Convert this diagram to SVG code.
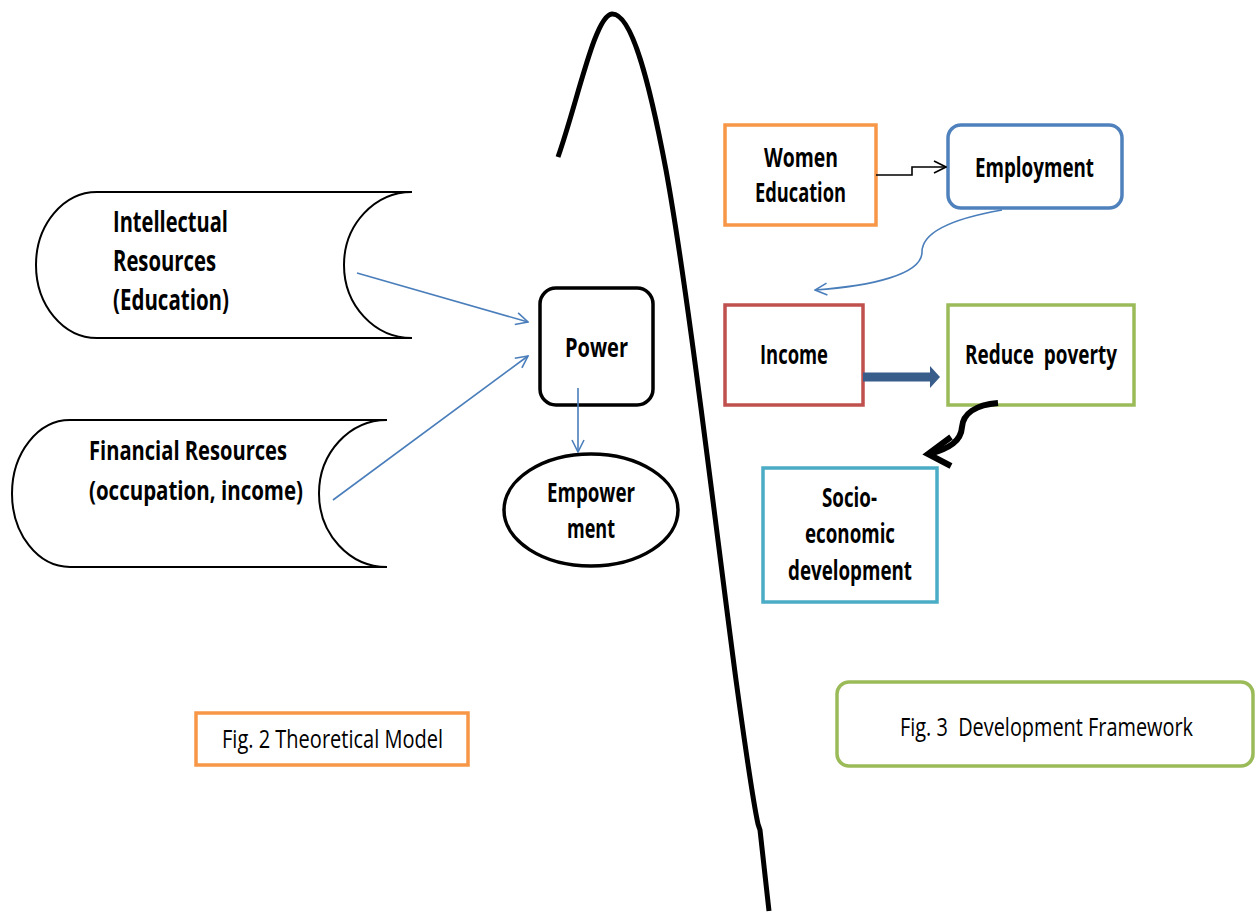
<svg xmlns="http://www.w3.org/2000/svg" width="1256" height="913" viewBox="0 0 1256 913">
<defs>
<style>
text{font-family:"Open Sans","Liberation Sans",Arial,sans-serif;fill:#000;white-space:pre}
.b{font-weight:bold}
.n{font-weight:normal}
.shape{fill:#fff;stroke:#000;stroke-width:2}
.thick{fill:#fff;stroke:#000;stroke-width:3.5}
.blue{fill:none;stroke:#4a7ebb;stroke-width:1.6}
</style>
<marker id="ab" viewBox="0 0 14 14" refX="13" refY="7" markerWidth="14" markerHeight="14" markerUnits="userSpaceOnUse" orient="auto">
<path d="M1,1 L13,7 L1,13" fill="none" stroke="#4a7ebb" stroke-width="1.6"/>
</marker>
<marker id="ak" viewBox="0 0 14 14" refX="13" refY="7" markerWidth="14" markerHeight="14" markerUnits="userSpaceOnUse" orient="auto">
<path d="M1,1 L13,7 L1,13" fill="none" stroke="#000" stroke-width="1.6"/>
</marker>
</defs>
<rect width="1256" height="913" fill="#fff"/>

<g id="divider">
<path d="M558,157 C578,100 595,15 612,14 C632,13 650,85 666,170 C688,290 716,530 736,680 C747,760 756,815 758,824 L760,830 L769,911" fill="none" stroke="#000" stroke-width="5"/>
</g>

<g id="intellectual">
<path class="shape" d="M412,192 L97,192 A61,73 0 0 0 97,338 L412,338 A68,73 0 0 1 412,192 Z"/>
<text class="b" font-size="29" x="113" y="232" textLength="115" lengthAdjust="spacingAndGlyphs">Intellectual</text>
<text class="b" font-size="29" x="113" y="271" textLength="103" lengthAdjust="spacingAndGlyphs">Resources</text>
<text class="b" font-size="29" x="113" y="310" textLength="116" lengthAdjust="spacingAndGlyphs">(Education)</text>
</g>

<g id="financial">
<path class="shape" d="M387,420 L70,420 A58,73.5 0 0 0 70,567 L387,567 A68,73.5 0 0 1 387,420 Z"/>
<text class="b" font-size="27" x="89" y="460" textLength="198" lengthAdjust="spacingAndGlyphs">Financial Resources</text>
<text class="b" font-size="27" x="89" y="500" textLength="214" lengthAdjust="spacingAndGlyphs">(occupation, income)</text>
</g>

<g id="power">
<rect class="thick" x="540" y="288" width="113" height="117" rx="16"/>
<text class="b" font-size="27" x="565" y="357" textLength="63" lengthAdjust="spacingAndGlyphs">Power</text>
</g>

<g id="empowerment">
<ellipse class="thick" cx="591" cy="510" rx="87" ry="56"/>
<text class="b" font-size="26" x="547" y="502" textLength="88" lengthAdjust="spacingAndGlyphs">Empower</text>
<text class="b" font-size="26" x="567" y="538" textLength="48" lengthAdjust="spacingAndGlyphs">ment</text>
</g>

<g id="women-education">
<rect x="725" y="125" width="151" height="100" fill="#fff" stroke="#f79646" stroke-width="3.5"/>
<text class="b" font-size="26" x="764" y="167" textLength="74" lengthAdjust="spacingAndGlyphs">Women</text>
<text class="b" font-size="26" x="755" y="202" textLength="91" lengthAdjust="spacingAndGlyphs">Education</text>
</g>

<g id="employment">
<rect x="948" y="125" width="174" height="83" rx="13" fill="#fff" stroke="#4f81bd" stroke-width="3.5"/>
<text class="b" font-size="26" x="975" y="177" textLength="119" lengthAdjust="spacingAndGlyphs">Employment</text>
</g>

<g id="income">
<rect x="725" y="305" width="138" height="100" fill="#fff" stroke="#c0504d" stroke-width="3.5"/>
<text class="b" font-size="26" x="760" y="364" textLength="68" lengthAdjust="spacingAndGlyphs">Income</text>
</g>

<g id="reduce-poverty">
<rect x="948" y="305" width="186" height="100" fill="#fff" stroke="#9bbb59" stroke-width="3.5"/>
<text class="b" font-size="26" x="965" y="364" textLength="152" lengthAdjust="spacingAndGlyphs">Reduce  poverty</text>
</g>

<g id="socio-economic">
<rect x="763" y="468" width="174" height="134" fill="#fff" stroke="#4bacc6" stroke-width="3.5"/>
<text class="b" font-size="26" x="822" y="507" textLength="55" lengthAdjust="spacingAndGlyphs">Socio-</text>
<text class="b" font-size="26" x="805" y="543" textLength="90" lengthAdjust="spacingAndGlyphs">economic</text>
<text class="b" font-size="26" x="788" y="580" textLength="124" lengthAdjust="spacingAndGlyphs">development</text>
</g>

<g id="fig2-caption">
<rect x="196" y="713" width="272" height="52" fill="#fff" stroke="#f79646" stroke-width="3.5"/>
<text class="n" font-size="25" x="222" y="748" textLength="221" lengthAdjust="spacingAndGlyphs">Fig. 2 Theoretical Model</text>
</g>

<g id="fig3-caption">
<rect x="837" y="682" width="416" height="84" rx="12" fill="#fff" stroke="#9bbb59" stroke-width="3.5"/>
<text class="n" font-size="25" x="900" y="736" textLength="293" lengthAdjust="spacingAndGlyphs">Fig. 3  Development Framework</text>
</g>

<g id="connectors">
<path class="blue" d="M357,273 L528,322" marker-end="url(#ab)"/>
<path class="blue" d="M333,500 L528,356" marker-end="url(#ab)"/>
<path class="blue" d="M578,388 L578,452" marker-end="url(#ab)"/>
<path d="M876,175 L912,175 L912,167 L946,167" fill="none" stroke="#000" stroke-width="1.6" marker-end="url(#ak)"/>
<path class="blue" d="M1002,210 C945,220 922,235 922,252 C922,275 870,286 815,290" marker-end="url(#ab)"/>
<polygon points="863,372.5 930,372.5 930,366 940,377 930,388 930,381.5 863,381.5" fill="#385d8a"/>
<path d="M998,403 C975,405 963,414 962,427 C961,441 950,448 930,454" fill="none" stroke="#000" stroke-width="6"/>
<polyline points="951,437 928,454 951,466" fill="none" stroke="#000" stroke-width="6"/>
</g>
</svg>
